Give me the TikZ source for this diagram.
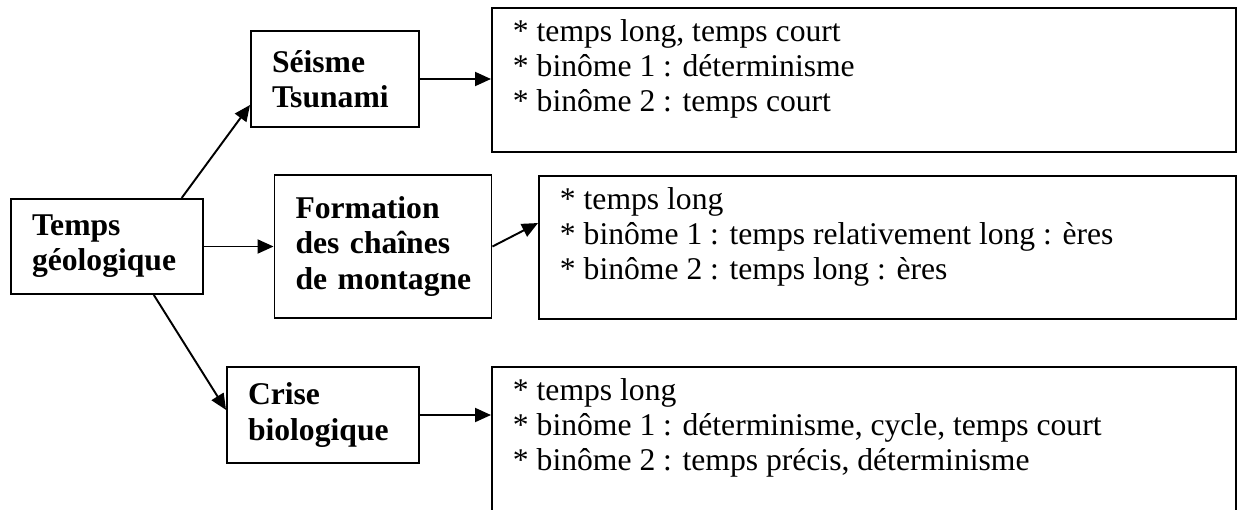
\documentclass[tikz,border=0pt]{standalone}
\usepackage{fontspec}
\setmainfont{Liberation Serif}
\usetikzlibrary{arrows.meta}
\hyphenpenalty=10000

\begin{document}
\begin{tikzpicture}[>={Triangle[length=0.32cm,width=0.28cm]},line width=1.1pt,
 font=\fontsize{18}{20}\selectfont,
 topic/.style={draw,font=\fontsize{18}{20}\selectfont\bfseries,
 align=left,inner xsep=0.42cm,inner ysep=0pt},
 notes/.style={draw,anchor=north west,inner xsep=0.42cm,inner ysep=0.23cm}]
\useasboundingbox (0,0) rectangle (24.78,10.18);
\clip (0,0) rectangle (24.78,10.18);
\node[topic,text width=3cm,minimum height=1.9cm] (temps) at (2.14,5.25) {Temps\\géologique};
\node[topic,text width=2.52cm,minimum height=1.92cm] (seisme) at (6.70,8.60) {Séisme\\Tsunami};
\node[topic,text width=3.5cm,minimum height=2.86cm] (formation) at (7.66,5.25)
 {Formation\\des~chaînes\\de~montagne};
\node[topic,text width=3cm,minimum height=1.92cm] (crise) at (6.46,1.88) {Crise\\biologique};
% the third box runs off the bottom of the page
\node[notes] (binA) at (9.82,10.04) {\parbox[c][2.42cm][t]{14.04cm}{%
 * temps long, temps court\\{}* binôme 1 : déterminisme\\{}* binôme 2 : temps court}};
\node[notes] (binB) at (10.76,6.68) {\parbox[c][2.40cm][t]{13.10cm}{%
 * temps long\\{}* binôme 1 : temps relativement long : ères\\{}* binôme 2 : temps long : ères}};
\node[notes] (binC) at (9.82,2.86) {\parbox[c][3.4cm][t]{14.04cm}{%
 * temps long\\{}* binôme 1 : déterminisme, cycle, temps court\\{}* binôme 2 : temps précis, déterminisme}};
\draw[->] (temps.33) -- (seisme.197);
\draw[->] (temps.east) -- (formation.west);
\draw[->] (temps.314.7) -- (crise.177);
\draw[->] (seisme.east) -- (seisme.east -| binA.west);
\draw[->] (formation.east) -- (binB.176.5);
\draw[->] (crise.east) -- (crise.east -| binC.west);
\end{tikzpicture}
\end{document}
